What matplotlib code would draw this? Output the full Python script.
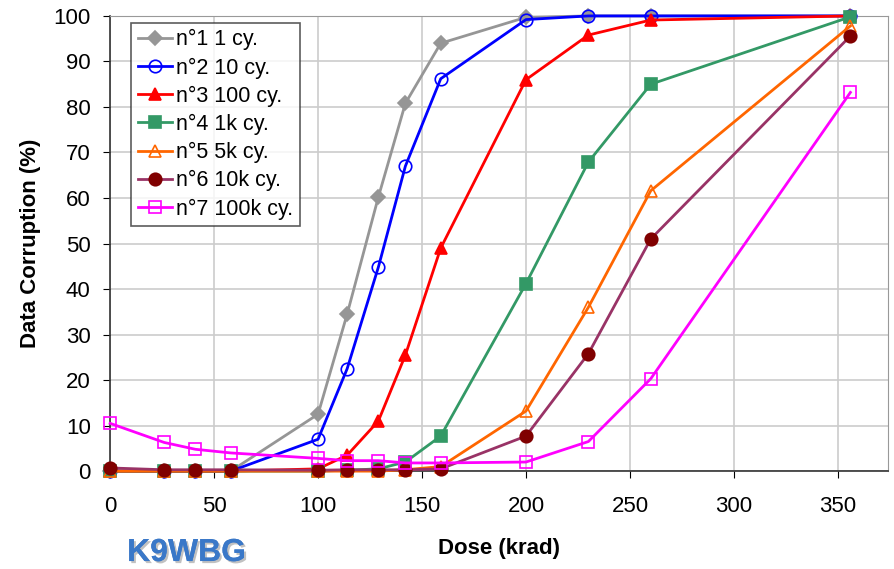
import matplotlib.pyplot as plt
import matplotlib.patheffects as pe

plt.rcParams['font.family'] = ['Liberation Sans', 'DejaVu Sans']

dose = [0, 26, 41, 58, 100, 114, 129, 142, 159, 200, 230, 260, 356]

labels = ["n°1 1 cy.", "n°2 10 cy.", "n°3 100 cy.", "n°4 1k cy.",
          "n°5 5k cy.", "n°6 10k cy.", "n°7 100k cy."]

s1 = [0, 0, 0, 0, 12.5, 34.5, 60.2, 80.8, 94.0, 99.7, 100, 100, 100]
s2 = [0, 0, 0, 0, 7.0, 22.5, 44.8, 67.0, 86.2, 99.2, 100, 100, 100]
s3 = [0, 0, 0, 0, 0.5, 3.5, 11.0, 25.5, 49.0, 86.0, 95.8, 99.1, 100]
s4 = [0, 0, 0, 0, 0, 0.2, 0.5, 2.0, 7.7, 41.2, 67.9, 85.0, 99.8]
s5 = [0, 0, 0, 0, 0, 0, 0, 0.3, 1.0, 13.2, 36.0, 61.6, 97.8]
s6 = [0.7, 0.3, 0.3, 0.3, 0.2, 0.3, 0.3, 0.3, 0.5, 7.7, 25.8, 51.0, 95.6]
s7 = [10.5, 6.3, 4.8, 4.0, 2.8, 2.3, 2.3, 1.8, 1.8, 2.0, 6.5, 20.3, 83.2]

series = [s1, s2, s3, s4, s5, s6, s7]
line_colors = ['#969696', '#0000ff', '#ff0000', '#339966', '#ff6600', '#993366', '#ff00ff']
markers = ['D', 'o', '^', 's', '^', 'o', 's']
face = ['#969696', 'none', '#ff0000', '#339966', 'none', '#800000', 'none']
edge = ['#969696', '#0000ff', '#ff0000', '#339966', '#ff6600', '#800000', '#ff00ff']
msize = [7, 9, 9, 9, 9, 9, 9]

fig = plt.figure(figsize=(8.95, 5.69), dpi=100)
ax = fig.add_axes([0.123, 0.172, 0.869, 0.800])

for y, lab, c, m, fc, ec, ms in zip(series, labels, line_colors, markers, face, edge, msize):
    ax.plot(dose, y, color=c, lw=2, marker=m, ms=ms, mfc=fc, mec=ec, mew=1.2,
            label=lab, clip_on=False, zorder=3)

ax.set_xlim(0, 374)
ax.set_ylim(0, 100)
ax.set_xticks(range(0, 351, 50))
ax.set_yticks(range(0, 101, 10))
ax.grid(True, color='#cccccc', lw=1.2)
ax.set_axisbelow(True)
for s in ['top', 'right']:
    ax.spines[s].set_color('#999999')
for s in ['left', 'bottom']:
    ax.spines[s].set_color('#333333')
    ax.spines[s].set_linewidth(1.2)
ax.tick_params(labelsize=16, length=5, direction='out')
ax.tick_params(axis='x', pad=13)
ax.tick_params(axis='y', pad=9)

ax.set_xlabel('Dose (krad)', fontsize=16, fontweight='bold', labelpad=15)
ax.set_ylabel('Data Corruption (%)', fontsize=16, fontweight='bold', labelpad=9)

leg = ax.legend(loc='upper left', bbox_to_anchor=(0.027, 0.985), fontsize=15.5,
                frameon=True, fancybox=False, edgecolor='#333333',
                handlelength=1.6, handletextpad=0.2, labelspacing=0.33,
                borderpad=0.3, borderaxespad=0)
leg.get_frame().set_linewidth(1.2)

fig.text(0.142, 0.014, 'K9WBG', fontsize=23, fontweight='bold', color='#3a78c8',
         va='baseline',
         path_effects=[pe.withSimplePatchShadow(offset=(1.5, -1.5), shadow_rgbFace='#999999', alpha=0.6),
                       pe.Normal()])

fig.savefig('out.png', dpi=100)
